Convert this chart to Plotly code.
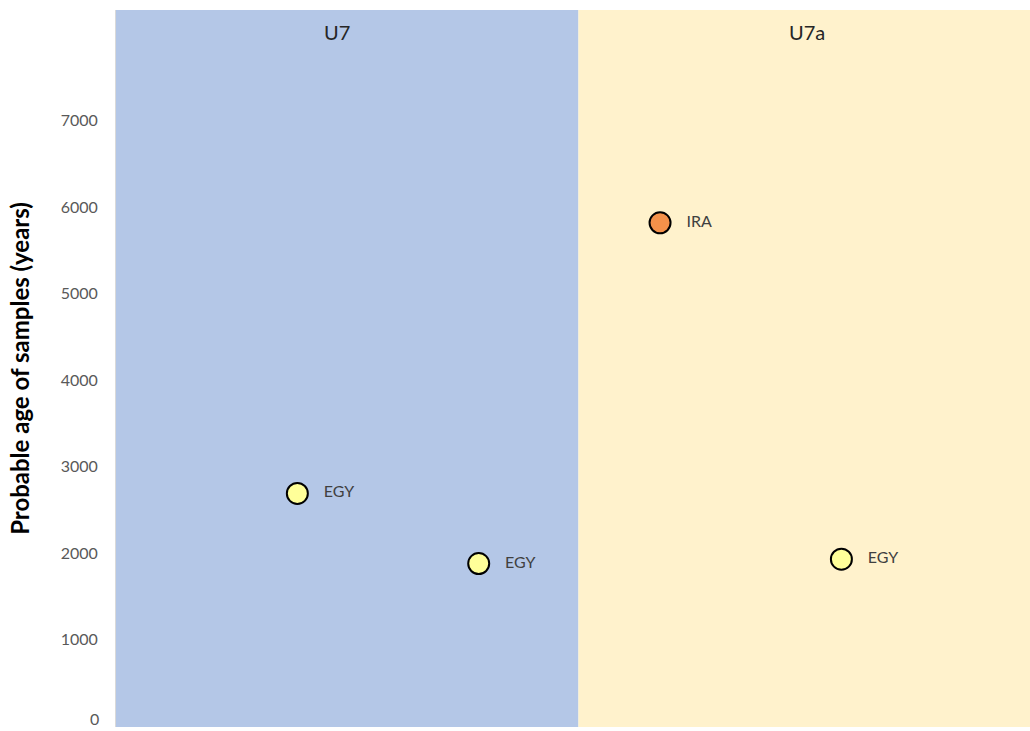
import plotly.graph_objects as go

# samples
sample_pos = [1, 2, 3, 4]
sample_age = [2690, 1880, 5820, 1930]
sample_label = ["EGY", "EGY", "IRA", "EGY"]
sample_color = ["#FFFF99", "#FFFF99", "#F4914A", "#FFFF99"]

# haplogroup bands
groups = ["U7", "U7a"]
group_start = [0, 2.55]
group_end = [2.55, 5.04]
group_label_pos = [1.22, 3.81]
group_color = ["#B4C7E7", "#FFF2CC"]

y_ticks = [0, 1000, 2000, 3000, 4000, 5000, 6000, 7000]

fig = go.Figure()

fig.add_trace(go.Scatter(
    x=sample_pos, y=sample_age, mode="markers+text",
    text=["&nbsp;&nbsp;&nbsp;" + t for t in sample_label],
    textposition="middle right",
    textfont=dict(size=16, color="#404040", family="Lato"),
    marker=dict(size=21, color=sample_color, line=dict(color="black", width=2)),
    showlegend=False, cliponaxis=False,
))

for g, s, e, p, c in zip(groups, group_start, group_end, group_label_pos, group_color):
    fig.add_shape(type="rect", xref="x", yref="paper", x0=s, x1=e, y0=0, y1=1,
                  fillcolor=c, line_width=0, layer="below")
    fig.add_annotation(x=p, y=1, xref="x", yref="paper", text=g,
                       showarrow=False, yanchor="top", yshift=-8,
                       font=dict(size=20, color="#262626", family="Lato"))

# the bottom tick label sits on the page edge, plotly drops it, so draw it by hand
fig.add_annotation(x=0, y=y_ticks[0], xref="paper", yref="y", text=str(y_ticks[0]),
                   showarrow=False, xanchor="right", yanchor="bottom", xshift=-16,
                   yshift=-3, borderpad=0,
                   font=dict(size=16, color="#595959", family="Lato"))

fig.update_layout(
    width=1030, height=731,
    margin=dict(l=116, r=0, t=10, b=4),
    paper_bgcolor="white", plot_bgcolor="white",
    font=dict(family="Lato"),
)
fig.update_xaxes(range=[0, 5.04], showticklabels=False, showgrid=False, zeroline=False)
fig.update_yaxes(
    range=[-10, 8280], tickvals=y_ticks, showgrid=False, zeroline=False,
    showline=True, linecolor="#D9D9D9", linewidth=1, ticks="",
    tickfont=dict(size=16, color="#595959"), ticklabelstandoff=14,
    title=dict(text="<b>Probable age of samples (years)</b>",
               font=dict(size=24, color="black"), standoff=24),
)

fig.write_html("out.html", config={"displayModeBar": False},
               post_script="document.body.style.margin='0';")
